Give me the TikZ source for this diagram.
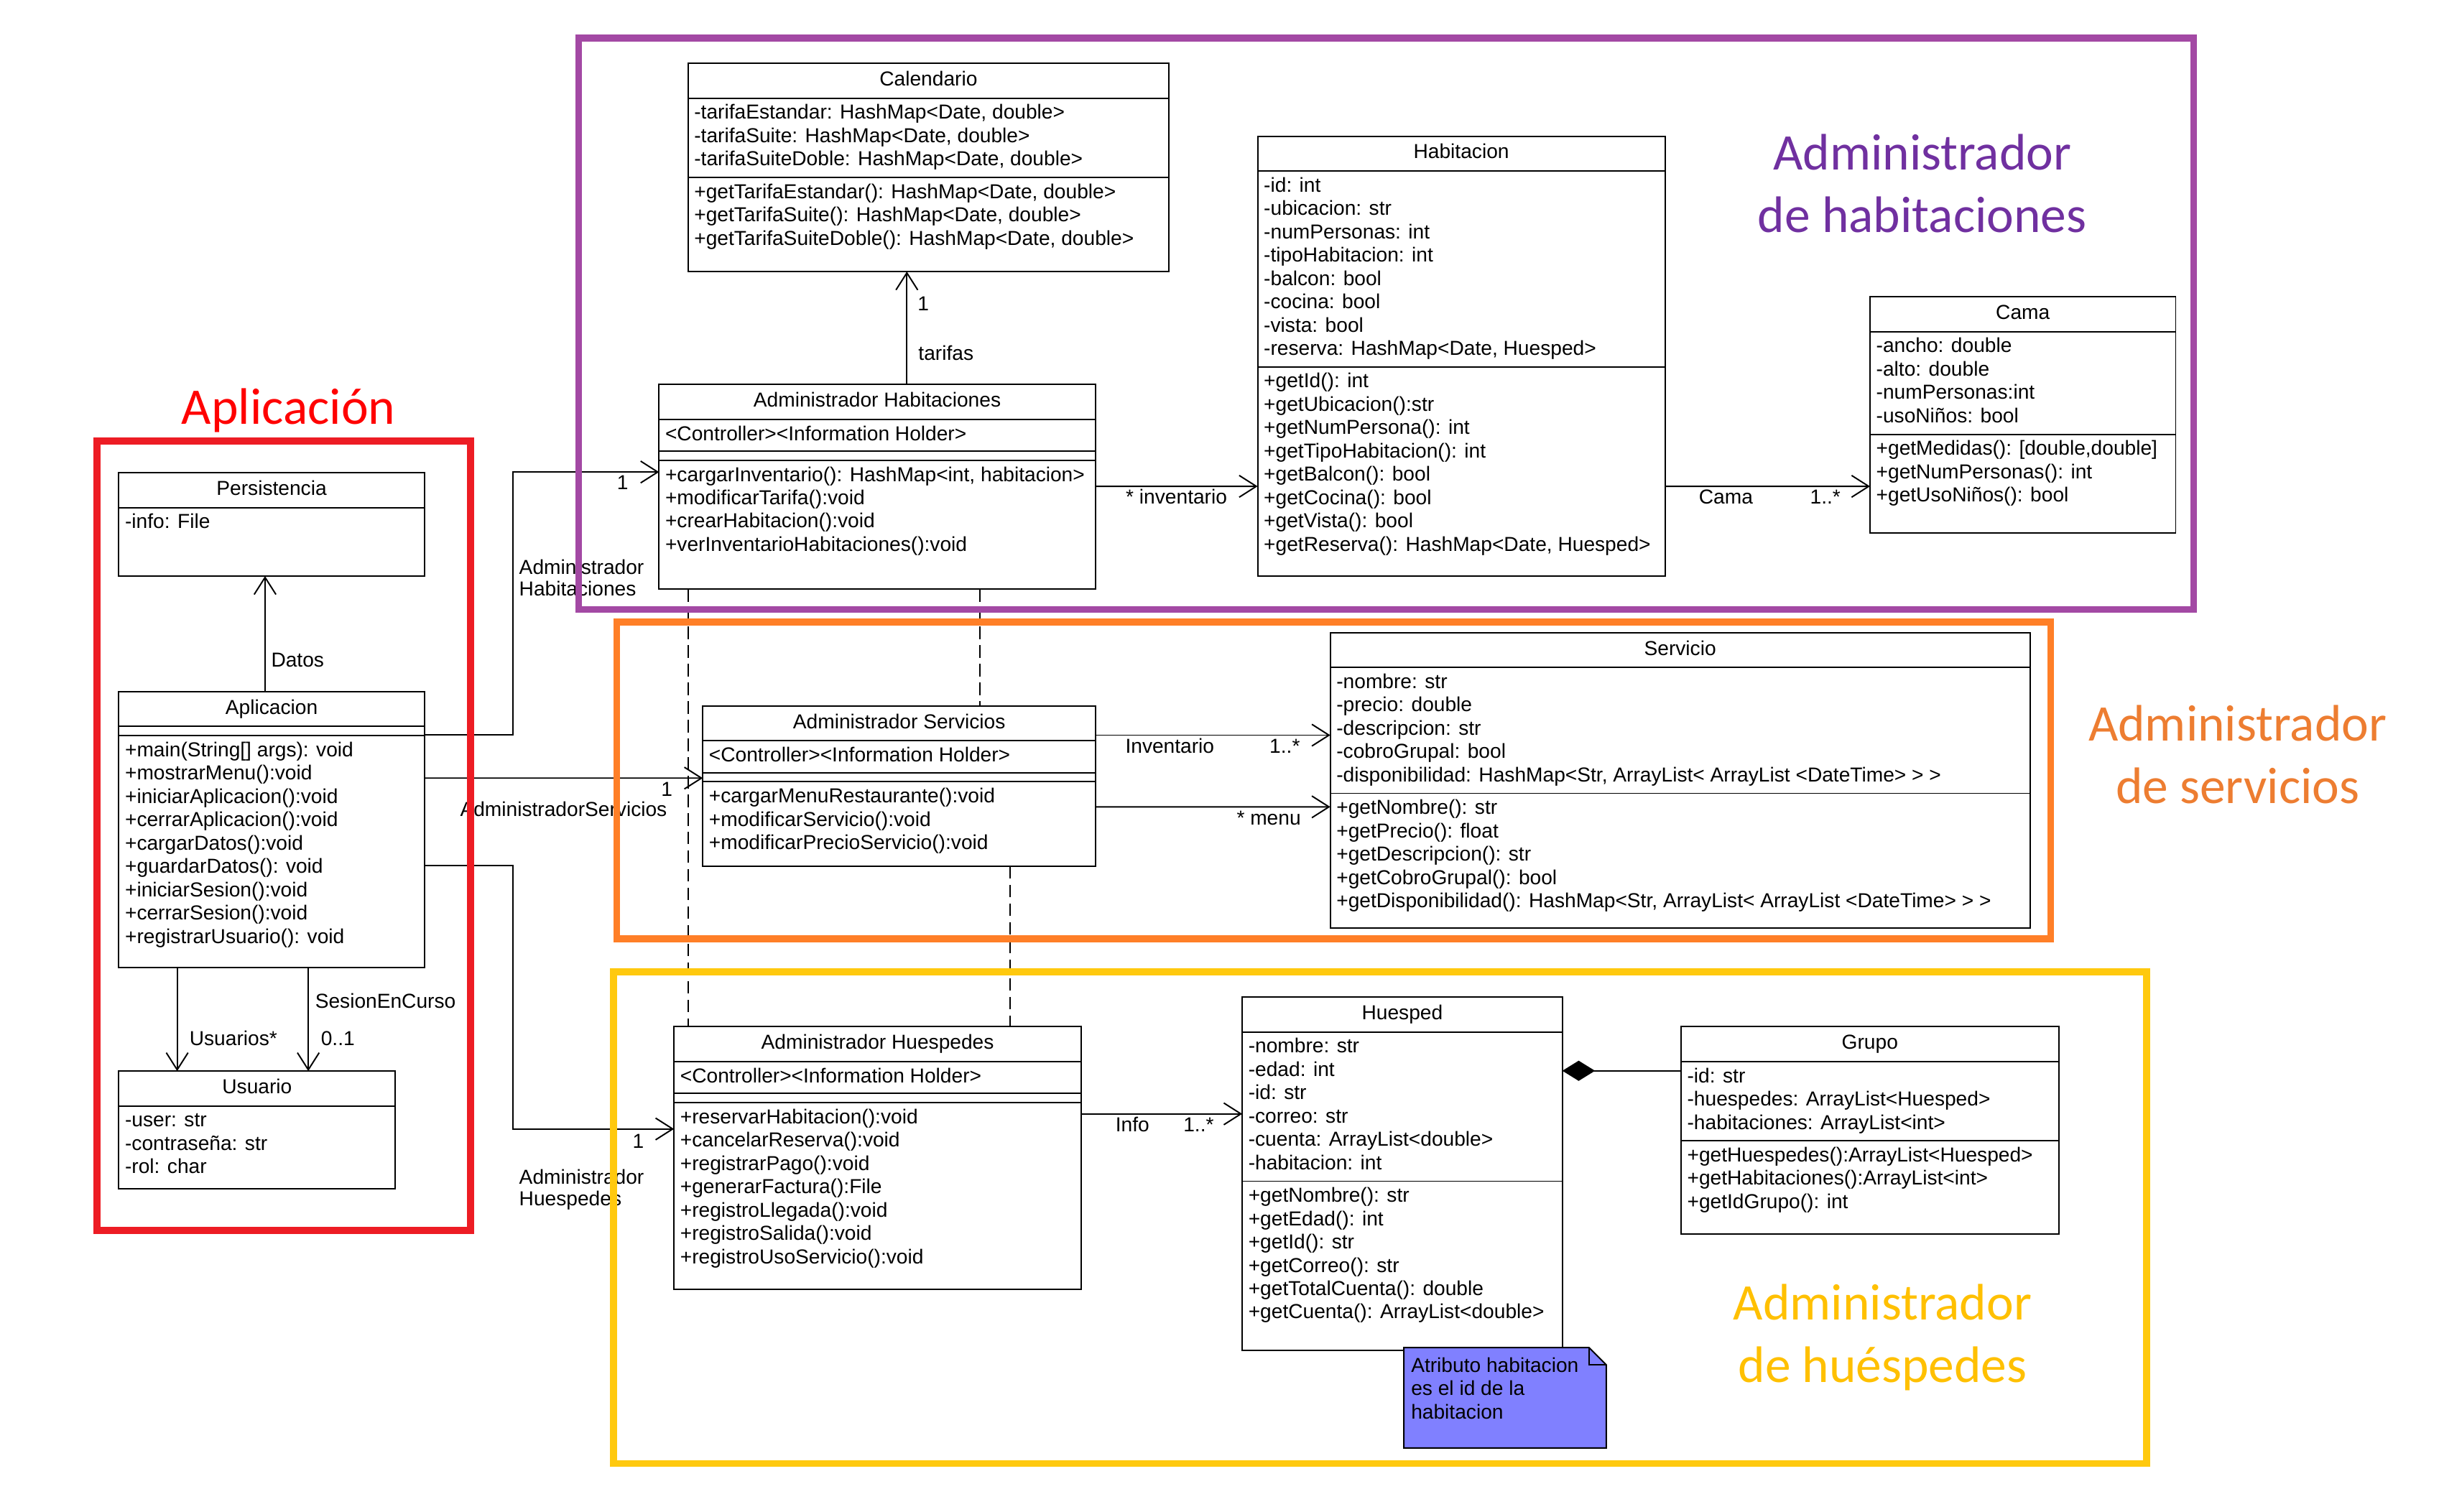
\documentclass[tikz,border=0pt]{standalone}
\usepackage{fontspec}
\setmainfont{Liberation Sans}
\newfontfamily\calibri{Carlito}
\usetikzlibrary{shapes.multipart, arrows.meta}

\definecolor{marcoRojo}{HTML}{ED1C24}
\definecolor{marcoMorado}{HTML}{A349A4}
\definecolor{marcoNaranja}{HTML}{FF7F27}
\definecolor{marcoAmarillo}{HTML}{FFC90E}
\definecolor{txtRojo}{HTML}{FF0000}
\definecolor{txtMorado}{HTML}{7030A0}
\definecolor{txtNaranja}{HTML}{ED7D31}
\definecolor{txtAmarillo}{HTML}{FFC000}
\definecolor{notaAzul}{HTML}{8080FF}

% alturas fijas de los compartimentos
\newcommand{\titulo}{\rule[-5pt]{0pt}{16.5pt}}
\newcommand{\estereo}{\rule[-4pt]{0pt}{14.6pt}}
\newcommand{\vacio}{\rule{1pt}{0pt}}
\newcommand{\cierre}[1]{\rule[-#1]{0pt}{#1}}

\begin{document}
\begin{tikzpicture}[x=1pt, y=-1pt,
    every node/.style={font=\fontsize{13}{15}\selectfont},
    clase/.style={draw, fill=white, line width=0.9pt, rectangle split, rectangle split parts=#1,
      rectangle split part align={center,left,left,left},
      rectangle split empty part height=0pt, rectangle split empty part depth=0pt,
      align=left, inner xsep=4pt, inner ysep=2.5pt, outer sep=0pt, anchor=north west},
    nav/.style={line width=0.9pt, -{Straight Barb[length=11pt,width=14pt]}},
    comp/.style={line width=0.9pt, -{Diamond[length=21pt,width=13pt]}},
    dep/.style={line width=0.9pt, dash pattern=on 8pt off 4pt},
    lbl/.style={inner sep=1.5pt, text height=9.5pt, text depth=2.5pt},
    lbl2/.style={inner sep=1.5pt, align=left, font=\fontsize{13}{14}\selectfont},
    marco/.style={line width=4.5pt},
    grande/.style={font=\calibri\fontsize{33}{40}\selectfont, align=center, anchor=base, inner sep=0pt}]
  \useasboundingbox (0,0) rectangle (1568,972);

  % Aplicacion
  \node[clase=2, minimum width=196.4pt] (persist) at (76.4,304) {\titulo Persistencia
    \nodepart{two}\strut -info: File\cierre{27.6pt}};
  \node[clase=3, minimum width=196.4pt] (aplic) at (76.4,444.7) {\titulo Aplicacion
    \nodepart{two}\vacio
    \nodepart{three}\strut +main(String[] args): void\\
    +mostrarMenu():void\\
    +iniciarAplicacion():void\\
    +cerrarAplicacion():void\\
    +cargarDatos():void\\
    +guardarDatos(): void\\
    +iniciarSesion():void\\
    +cerrarSesion():void\\
    +registrarUsuario(): void\cierre{12.8pt}};
  \node[clase=2, minimum width=177.8pt] (usuario) at (76.4,688.7) {\titulo Usuario
    \nodepart{two}\strut -user: str\\
    -contraseña: str\\
    -rol: char\cierre{7pt}};

  % habitaciones
  \node[clase=3, minimum width=309.2pt] (calend) at (442.3,40.8) {\titulo Calendario
    \nodepart{two}\strut -tarifaEstandar: HashMap<Date, double>\\
    -tarifaSuite: HashMap<Date, double>\\
    -tarifaSuiteDoble: HashMap<Date, double>\strut
    \nodepart{three}\strut +getTarifaEstandar(): HashMap<Date, double>\\
    +getTarifaSuite(): HashMap<Date, double>\\
    +getTarifaSuiteDoble(): HashMap<Date, double>\cierre{14.1pt}};
  \node[clase=4, minimum width=280.5pt] (adminhab) at (423.7,247.2) {\titulo Administrador Habitaciones
    \nodepart{two}\estereo <Controller><Information Holder>
    \nodepart{three}\vacio
    \nodepart{four}\strut +cargarInventario(): HashMap<int, habitacion>\\
    +modificarTarifa():void\\
    +crearHabitacion():void\\
    +verInventarioHabitaciones():void\cierre{21.5pt}};
  \node[clase=3, minimum width=261.9pt] (habit) at (808.5,87.6) {\titulo Habitacion
    \nodepart{two}\strut -id: int\\
    -ubicacion: str\\
    -numPersonas: int\\
    -tipoHabitacion: int\\
    -balcon: bool\\
    -cocina: bool\\
    -vista: bool\\
    -reserva: HashMap<Date, Huesped>\strut
    \nodepart{three}\strut +getId(): int\\
    +getUbicacion():str\\
    +getNumPersona(): int\\
    +getTipoHabitacion(): int\\
    +getBalcon(): bool\\
    +getCocina(): bool\\
    +getVista(): bool\\
    +getReserva(): HashMap<Date, Huesped>\cierre{13.1pt}};
  \node[clase=3, minimum width=196.5pt] (cama) at (1202.2,190.9) {\titulo Cama
    \nodepart{two}\strut -ancho: double\\
    -alto: double\\
    -numPersonas:int\\
    -usoNiños: bool\strut
    \nodepart{three}\strut +getMedidas(): [double,double]\\
    +getNumPersonas(): int\\
    +getUsoNiños(): bool\cierre{17.2pt}};

  % servicios
  \node[clase=4, minimum width=252.6pt] (adminserv) at (451.8,453.9) {\titulo Administrador Servicios
    \nodepart{two}\estereo <Controller><Information Holder>
    \nodepart{three}\vacio
    \nodepart{four}\strut +cargarMenuRestaurante():void\\
    +modificarServicio():void\\
    +modificarPrecioServicio():void\cierre{7.9pt}};
  \node[clase=3, minimum width=449.8pt] (servicio) at (855.2,406.8) {\titulo Servicio
    \nodepart{two}\strut -nombre: str\\
    -precio: double\\
    -descripcion: str\\
    -cobroGrupal: bool\\
    -disponibilidad: HashMap<Str, ArrayList< ArrayList <DateTime> > >\strut
    \nodepart{three}\strut +getNombre(): str\\
    +getPrecio(): float\\
    +getDescripcion(): str\\
    +getCobroGrupal(): bool\\
    +getDisponibilidad(): HashMap<Str, ArrayList< ArrayList <DateTime> > >\cierre{10.2pt}};

  % huespedes
  \node[clase=4, minimum width=261.8pt] (adminhues) at (433.3,660.2) {\titulo Administrador Huespedes
    \nodepart{two}\estereo <Controller><Information Holder>
    \nodepart{three}\vacio
    \nodepart{four}\strut +reservarHabitacion():void\\
    +cancelarReserva():void\\
    +registrarPago():void\\
    +generarFactura():File\\
    +registroLlegada():void\\
    +registroSalida():void\\
    +registroUsoServicio():void\cierre{13.8pt}};
  \node[clase=3, minimum width=205.8pt] (huesped) at (798.6,641.2) {\titulo Huesped
    \nodepart{two}\strut -nombre: str\\
    -edad: int\\
    -id: str\\
    -correo: str\\
    -cuenta: ArrayList<double>\\
    -habitacion: int\strut
    \nodepart{three}\strut +getNombre(): str\\
    +getEdad(): int\\
    +getId(): str\\
    +getCorreo(): str\\
    +getTotalCuenta(): double\\
    +getCuenta(): ArrayList<double>\cierre{17.3pt}};
  \node[clase=3, minimum width=242.8pt] (grupo) at (1080.7,660.2) {\titulo Grupo
    \nodepart{two}\strut -id: str\\
    -huespedes: ArrayList<Huesped>\\
    -habitaciones: ArrayList<int>\strut
    \nodepart{three}\strut +getHuespedes():ArrayList<Huesped>\\
    +getHabitaciones():ArrayList<int>\\
    +getIdGrupo(): int\cierre{13.6pt}};

  % nota
  \filldraw[line width=0.9pt, fill=notaAzul] (902.5,866.5) -- (1021.6,866.5) -- (1032.6,877.5)
    -- (1032.6,931) -- (902.5,931) -- cycle;
  \draw[line width=0.9pt] (1021.6,866.5) -- (1021.6,877.5) -- (1032.6,877.5);
  \node[anchor=north west, align=left, inner sep=0pt] (nota) at (907,871.5)
    {\strut Atributo habitacion\\es el id de la\\habitacion};

  % conectores
  \draw[nav] ([xshift=94pt]aplic.north west) -- node[lbl, pos=0.26, right=2pt] (l-datos) {Datos} ([xshift=94pt]persist.south west);
  \draw[nav] ([xshift=37.5pt]aplic.south west) -- node[lbl, pos=0.7, right=6pt] (l-usuarios) {Usuarios*} ([xshift=37.5pt]usuario.north west);
  \draw[nav] ([xshift=121.8pt]aplic.south west) -- node[lbl, pos=0.34, right=2.5pt] (l-sesion) {SesionEnCurso}
    node[lbl, pos=0.7, right=6.2pt] (m-sesion) {0..1} ([xshift=121.8pt]usuario.north west);

  \draw[nav] ([yshift=-27.8pt]aplic.north east) -- ++(57,0) |- ([yshift=-56.3pt]adminhab.north west);
  \node[lbl] (m-hab) at (400.3,311.3) {1};
  \node[lbl2, anchor=west] (r-hab) at (332.1,371.5) {Administrador\\Habitaciones};
  \draw[nav] ([yshift=-55.6pt]aplic.north east) -- node[lbl, pos=0.871, below] (m-serv) {1}
    node[lbl, pos=0.5, below=13pt] (r-serv) {AdministradorServicios} ([yshift=-46.4pt]adminserv.north west);
  \draw[nav] ([yshift=-112pt]aplic.north east) -- ++(57,0) |- ([yshift=-65.7pt]adminhues.north west);
  \node[lbl] (m-hues) at (410.3,734.7) {1};
  \node[lbl2, anchor=west] (r-hues) at (332.1,765) {Administrador\\Huespedes};

  \draw[nav] ([xshift=159.3pt]adminhab.north west) -- node[lbl, pos=0.266, right=5.5pt] (r-tarifas) {tarifas}
    node[lbl, pos=0.704, right=5pt] (m-tarifas) {1} ([xshift=140.7pt]calend.south west);
  \draw[nav] ([yshift=-65.5pt]adminhab.north east) -- node[lbl, pos=0.5, below] (r-inv) {* inventario} ([yshift=-225.1pt]habit.north west);
  \draw[nav] ([yshift=-225.1pt]habit.north east) -- node[lbl, pos=0.297, below] (r-cama) {Cama}
    node[lbl, pos=0.782, below] (m-cama) {1..*} ([yshift=-121.8pt]cama.north west);
  \draw[nav] ([yshift=-18.8pt]adminserv.north east) -- node[lbl, pos=0.316, below] (r-invserv) {Inventario}
    node[lbl, pos=0.806, below] (m-invserv) {1..*} ([yshift=-65.9pt]servicio.north west);
  \draw[nav] ([yshift=-64.9pt]adminserv.north east) -- node[lbl, pos=0.738, below] (r-menu) {* menu} ([yshift=-112pt]servicio.north west);
  \draw[nav] ([yshift=-56pt]adminhues.north east) -- node[lbl, pos=0.318, below] (r-info) {Info}
    node[lbl, pos=0.729, below] (m-info) {1..*} ([yshift=-75pt]huesped.north west);
  \draw[comp] ([yshift=-28.3pt]grupo.north west) -- ([yshift=-47.3pt]huesped.north east);

  \draw[dep] ([xshift=18.6pt]adminhab.south west) -- ([xshift=9pt]adminhues.north west);
  \draw[dep] ([xshift=206.3pt]adminhab.south west) -- ([xshift=178.2pt]adminserv.north west);
  \draw[dep] ([xshift=197.4pt]adminserv.south west) -- ([xshift=215.9pt]adminhues.north west);

  % marcos
  \draw[marco, draw=marcoRojo] (62.4,283.6) rectangle (302.6,791);
  \draw[marco, draw=marcoMorado] (372,24.5) rectangle (1410.2,391.9);
  \draw[marco, draw=marcoNaranja] (396.5,400) rectangle (1318.3,603.5);
  \draw[marco, draw=marcoAmarillo] (394.5,625) rectangle (1380,941);

  \node[grande, text=txtRojo] (g-aplic) at (185.5,272.5) {Aplicación};
  \node[grande, text=txtMorado] (g-hab) at (1235.8,149.3) {Administrador\\de habitaciones};
  \node[grande, text=txtNaranja] (g-serv) at (1438.5,516.5) {Administrador\\de servicios};
  \node[grande, text=txtAmarillo] (g-hues) at (1210.3,888.6) {Administrador\\de huéspedes};
\end{tikzpicture}
\end{document}
